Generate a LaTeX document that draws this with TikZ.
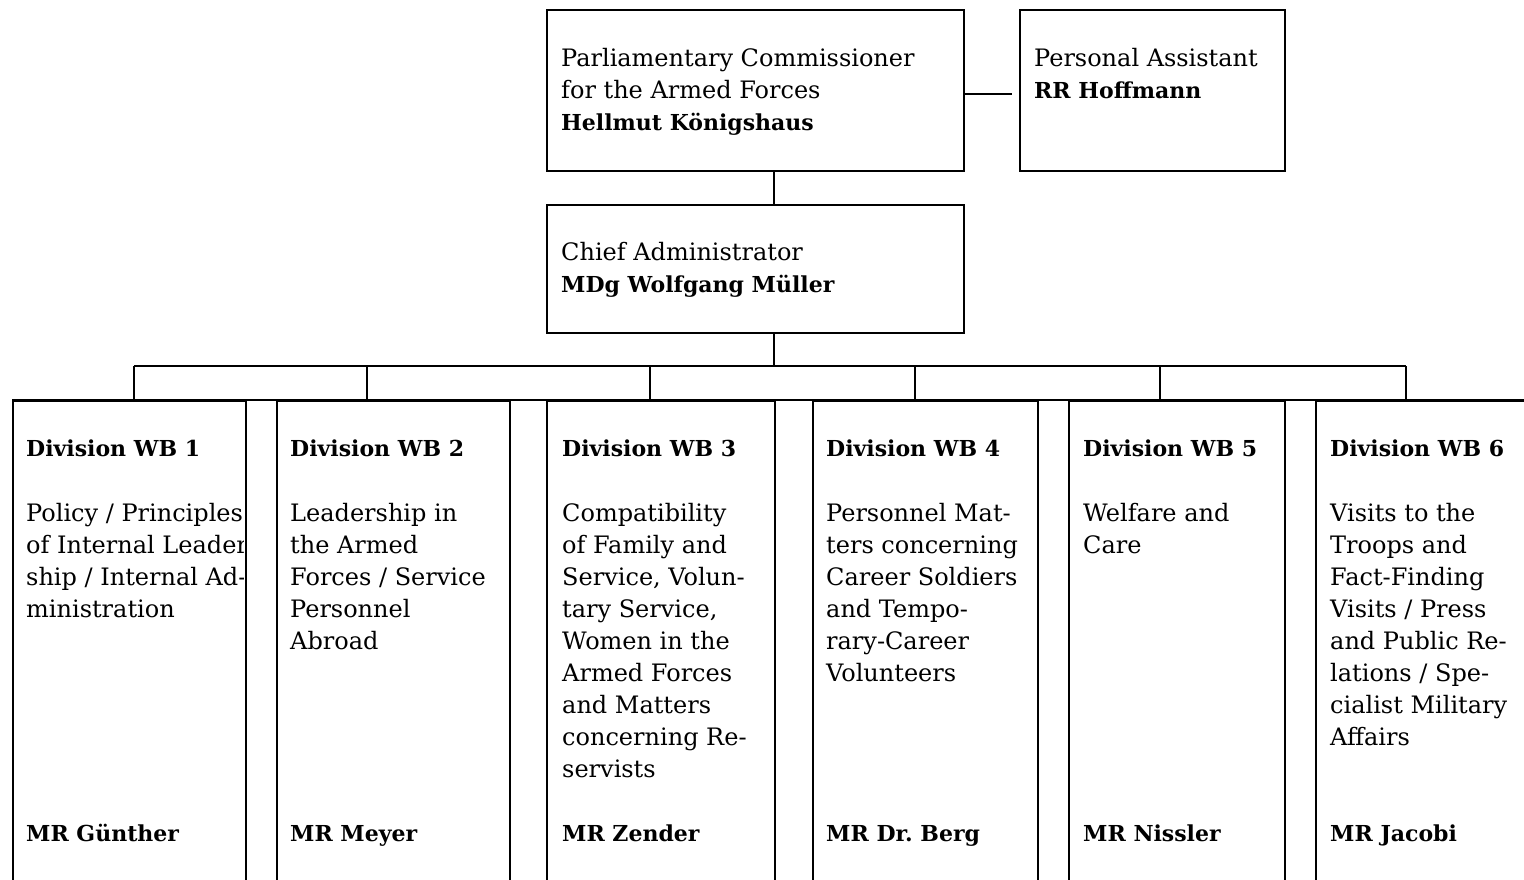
\documentclass[tikz,border=0pt]{standalone}
\usepackage{fontspec}
\setmainfont{DejaVu Serif}
\frenchspacing
\newcommand\boldtxt[1]{{\fontsize{22}{32}\selectfont\bfseries #1}}
\begin{document}
\begin{tikzpicture}[x=1pt,y=-1pt,
  box/.style={draw, line width=2pt, rectangle, inner sep=0pt, anchor=north west},
  txt/.style={anchor=north west, inner sep=0pt, align=left, font=\fontsize{24}{32}\selectfont},
  link/.style={line width=2pt}]
\useasboundingbox (0,0) rectangle (1524,880);
% top boxes
\node[box, minimum width=417pt, minimum height=161pt] (comm) at (546,9) {};
\node[box, minimum width=265pt, minimum height=161pt] (asst) at (1019,9) {};
\node[box, minimum width=417pt, minimum height=128pt] (chief) at (546,204) {};
\node[txt] (commtxt) at (561,43.6) {\strut Parliamentary Commissioner\\\strut for the Armed Forces\\\strut\boldtxt{Hellmut Königshaus}};
\node[txt] (assttxt) at (1034,43.6) {\strut Personal Assistant\\\strut\boldtxt{RR Hoffmann}};
\node[txt] (chieftxt) at (561,237.6) {\strut Chief Administrator\\\strut\boldtxt{MDg Wolfgang Müller}};
% division boxes
\node[box, minimum width=233pt, minimum height=500pt] (d1) at (12,400) {};
\node[box, minimum width=233pt, minimum height=500pt] (d2) at (276,400) {};
\node[box, minimum width=228pt, minimum height=500pt] (d3) at (546,400) {};
\node[box, minimum width=225pt, minimum height=500pt] (d4) at (812,400) {};
\node[box, minimum width=216pt, minimum height=500pt] (d5) at (1068,400) {};
\node[box, minimum width=260pt, minimum height=500pt] (d6) at (1315,400) {};
% connectors
\coordinate (bus) at (774,366);
\coordinate (paend) at (1012,94);
\coordinate (j1) at (134,366);
\coordinate (j2) at (367,366);
\coordinate (j3) at (650,366);
\coordinate (j4) at (915,366);
\coordinate (j5) at (1160,366);
\coordinate (j6) at (1406,366);
\draw[link] (comm.east |- paend) -- (paend);
\draw[link] (comm.south -| bus) -- (chief.north -| bus);
\draw[link] (chief.south -| bus) -- (bus);
\draw[link] (j1) -- (j6);
\draw[link] (j1) -- (j1 |- d1.north);
\draw[link] (j2) -- (j2 |- d2.north);
\draw[link] (j3) -- (j3 |- d3.north);
\draw[link] (j4) -- (j4 |- d4.north);
\draw[link] (j5) -- (j5 |- d5.north);
\draw[link] (j6) -- (j6 |- d6.north);
\draw[link] (d1.north west) -- (d6.north east);
% division texts
\node[txt] (t1) at (26,433.6) {\strut\boldtxt{Division WB 1}};
\node[txt] (t2) at (290,433.6) {\strut\boldtxt{Division WB 2}};
\node[txt] (t3) at (562,433.6) {\strut\boldtxt{Division WB 3}};
\node[txt] (t4) at (826,433.6) {\strut\boldtxt{Division WB 4}};
\node[txt] (t5) at (1083,433.6) {\strut\boldtxt{Division WB 5}};
\node[txt] (t6) at (1330,433.6) {\strut\boldtxt{Division WB 6}};
\begin{scope}
\clip (12,400) rectangle (243,880);
\node[txt] (x1) at (26,498.6) {\strut Policy / Principles\\\strut of Internal Leader-\\\strut ship / Internal Ad-\\\strut ministration};
\end{scope}
\node[txt] (x2) at (290,498.6) {\strut Leadership in\\\strut the Armed\\\strut Forces / Service\\\strut Personnel\\\strut Abroad};
\node[txt] (x3) at (562,498.6) {\strut Compatibility\\\strut of Family and\\\strut Service, Volun-\\\strut tary Service,\\\strut Women in the\\\strut Armed Forces\\\strut and Matters\\\strut concerning Re-\\\strut servists};
\node[txt] (x4) at (826,498.6) {\strut Personnel Mat-\\\strut ters concerning\\\strut Career Soldiers\\\strut and Tempo-\\\strut rary-Career\\\strut Volunteers};
\node[txt] (x5) at (1083,498.6) {\strut Welfare and\\\strut Care};
\node[txt] (x6) at (1330,498.6) {\strut Visits to the\\\strut Troops and\\\strut Fact-Finding\\\strut Visits / Press\\\strut and Public Re-\\\strut lations / Spe-\\\strut cialist Military\\\strut Affairs};
\node[txt] (n1) at (26,818.6) {\strut\boldtxt{MR Günther}};
\node[txt] (n2) at (290,818.6) {\strut\boldtxt{MR Meyer}};
\node[txt] (n3) at (562,818.6) {\strut\boldtxt{MR Zender}};
\node[txt] (n4) at (826,818.6) {\strut\boldtxt{MR Dr. Berg}};
\node[txt] (n5) at (1083,818.6) {\strut\boldtxt{MR Nissler}};
\node[txt] (n6) at (1330,818.6) {\strut\boldtxt{MR Jacobi}};
\end{tikzpicture}
\end{document}
